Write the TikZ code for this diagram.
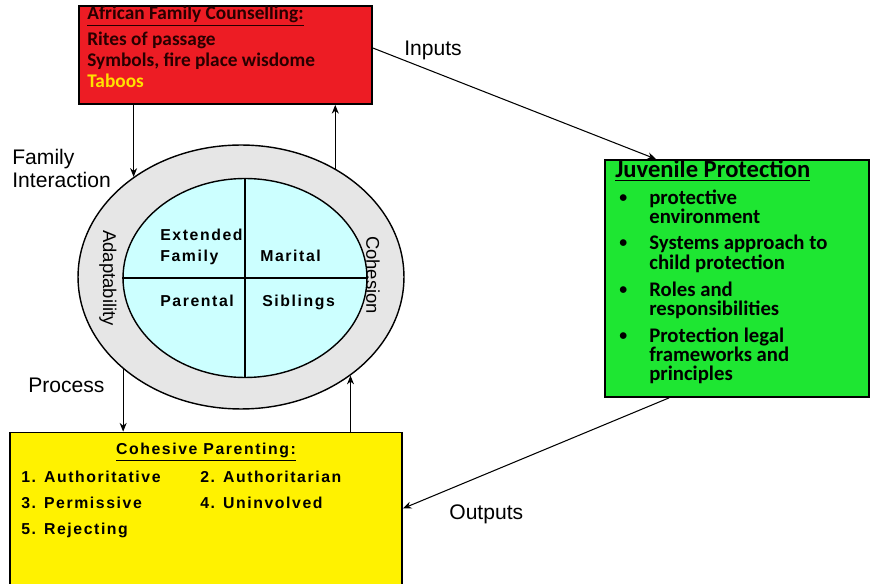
\documentclass[tikz,border=0pt]{standalone}
\usepackage{fontspec}
\setmainfont{Liberation Sans}
\newfontfamily\calib{Carlito}
\newfontfamily\wide[LetterSpace=10]{Liberation Sans}
\usetikzlibrary{shapes.geometric,arrows.meta}
\definecolor{boxred}{RGB}{237,28,36}
\definecolor{boxgreen}{RGB}{30,230,50}
\definecolor{ringgray}{RGB}{230,230,230}
\definecolor{corecyan}{RGB}{204,255,255}
\definecolor{taboo}{RGB}{255,225,0}
\definecolor{darktxt}{RGB}{40,0,0}
\tikzset{box/.style={draw, line width=1pt, inner sep=0pt},
  txt/.style={anchor=base west, inner sep=0pt},
  lab/.style={anchor=west, inner sep=0pt, font=\fontsize{12}{14}\selectfont},
  redtxt/.style={txt, text=darktxt, font=\calib\bfseries\fontsize{11}{12}\selectfont},
  greentxt/.style={txt, font=\calib\bfseries\fontsize{11.8}{12}\selectfont},
  quad/.style={txt, font=\wide\bfseries\fontsize{9}{10}\selectfont},
  arr/.style={-{Stealth[length=5pt,width=4pt]}, line width=0.6pt}}

\begin{document}
\begin{tikzpicture}[x=0.02cm,y=-0.02cm]
  \useasboundingbox (0,0) rectangle (877,584);
  \clip (0,0) rectangle (877,584);
  % boxes
  \node[box, fill=boxred, minimum width=5.86cm, minimum height=1.96cm] (red) at (225.5,55) {};
  \node[box, fill=boxgreen, minimum width=5.28cm, minimum height=4.74cm] (green) at (737,278.5) {};
  \node[box, fill=yellow, minimum width=7.84cm, minimum height=3.5cm] (yellow) at (206,520) {};
  % family circle
  \node[ellipse, draw, line width=0.8pt, fill=ringgray, inner sep=0pt,
        minimum width=6.52cm, minimum height=5.28cm] (outer) at (241,277) {};
  \node[ellipse, draw, line width=0.8pt, fill=corecyan, inner sep=0pt,
        minimum width=4.88cm, minimum height=3.98cm] (inner) at (245,278) {};
  \draw[line width=0.8pt] (inner.north) -- (inner.south);
  \draw[line width=0.8pt] (inner.west) -- (inner.east);
  \node[quad] (ext) at (160,241) {Extended};
  \node[quad] (fam) at (160,262) {Family};
  \node[quad] (mar) at (260,262) {Marital};
  \node[quad] (par) at (160,307) {Parental};
  \node[quad] (sib) at (262,307) {Siblings};
  \node[inner sep=0pt, rotate=-90, font=\fontsize{10.5}{12}\selectfont] (adapt) at (108,278) {Adaptability};
  \node[inner sep=0pt, rotate=-90, font=\fontsize{10.5}{12}\selectfont] (cohes) at (373,275) {Cohesion};
  % red box text
  \node[redtxt] (afc) at (87,20) {\underline{African Family Counselling:}};
  \node[redtxt] (rites) at (87,46) {Rites of passage};
  \node[redtxt] (symb) at (87,67) {Symbols, fire place wisdome};
  \node[redtxt, text=taboo] (tab) at (87,88) {Taboos};
  % green box text
  \node[txt, font=\calib\bfseries\fontsize{14}{15}\selectfont] (jp) at (615,178) {\underline{Juvenile Protection}};
  \foreach \yy in {203,248,295,341}
    \node[txt, font=\calib\bfseries\fontsize{9}{10}\selectfont] at (619,\yy) {\textbullet};
  \node[greentxt] (p1) at (649,205) {protective};
  \node[greentxt] (p2) at (649,224) {environment};
  \node[greentxt] (p3) at (649,250) {Systems approach to};
  \node[greentxt] (p4) at (649,270) {child protection};
  \node[greentxt] (p5) at (649,297) {Roles and};
  \node[greentxt] (p6) at (649,316) {responsibilities};
  \node[greentxt] (p7) at (649,343) {Protection legal};
  \node[greentxt] (p8) at (649,362) {frameworks and};
  \node[greentxt] (p9) at (649,381) {principles};
  % yellow box text
  \node[quad, anchor=base] (cp) at (206,455) {\underline{Cohesive Parenting:}};
  \node[quad] (s1) at (21,483) {1. Authoritative};
  \node[quad] (s2) at (200,483) {2. Authoritarian};
  \node[quad] (s3) at (21,509) {3. Permissive};
  \node[quad] (s4) at (200,509) {4. Uninvolved};
  \node[quad] (s5) at (21,535) {5. Rejecting};
  % labels
  \node[lab] (inl) at (404,50) {Inputs};
  \node[lab] (outl) at (449,514) {Outputs};
  \node[lab] (procl) at (28,385) {Process};
  \node[anchor=north west, inner sep=0pt, align=left, font=\fontsize{12}{13}\selectfont] (fil) at (12,149) {Family\\Interaction};
  % connectors
  \draw[arr] (outer.137.5 |- red.south) -- (outer.137.5);
  \draw[arr] (outer.49) -- (outer.49 |- red.south);
  \draw[arr] (outer.218) -- (outer.218 |- yellow.north);
  \draw[arr] (outer.318 |- yellow.north) -- (outer.318);
  \draw[arr] ([yshift=0.14cm]red.east) -- ([xshift=1.04cm]green.north west);
  \draw[arr] ([xshift=1.3cm]green.south west) -- ([yshift=0.23cm]yellow.east);
\end{tikzpicture}
\end{document}
